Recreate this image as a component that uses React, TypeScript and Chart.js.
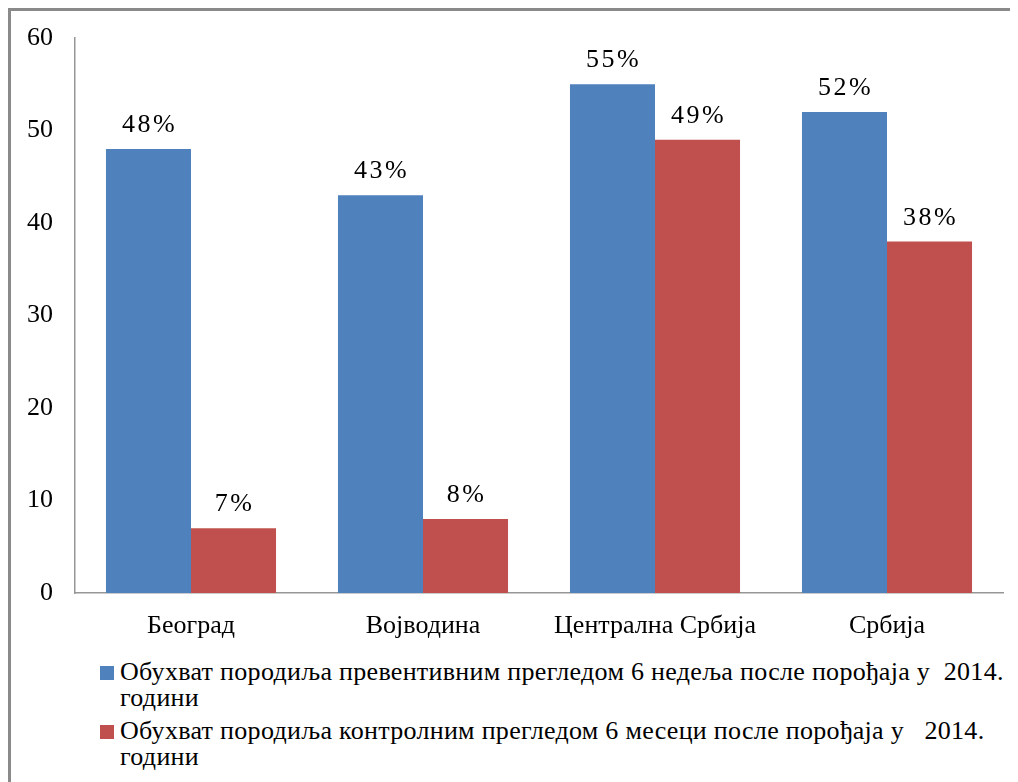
import React, { useEffect, useRef } from "react";
import { Chart, registerables } from "chart.js";

Chart.register(...registerables);

const categories = ["Београд", "Војводина", "Централна Србија", "Србија"];
const preventiveValues = [48, 43, 55, 52];
const controlValues = [7, 8, 49, 38];
const seriesColors = ["#4F81BD", "#C0504D"];
const legendFirstLines = [
  "Обухват породиља превентивним прегледом 6 недеља после порођаја у  2014.",
  "Обухват породиља контролним прегледом 6 месеци после порођаја у   2014.",
];
const legendSecondLines = ["години", "години"];

const FONT = '"Liberation Serif", "Times New Roman", serif';

const labelPlugin = {
  id: "barValueLabels",
  afterDatasetsDraw(chart: any) {
    const ctx = chart.ctx;
    ctx.save();
    ctx.font = `26px ${FONT}`;
    ctx.fillStyle = "#000";
    ctx.textAlign = "center";
    ctx.textBaseline = "alphabetic";
    try {
      (ctx as any).letterSpacing = "2.5px";
    } catch (e) {}
    chart.data.datasets.forEach((ds: any, i: number) => {
      const meta = chart.getDatasetMeta(i);
      meta.data.forEach((bar: any, j: number) => {
        const txt = `${ds.data[j]}%`;
        ctx.fillText(txt, bar.x + 1, bar.y - 17);
      });
    });
    ctx.restore();
  },
};

export default function App() {
  const ref = useRef<HTMLCanvasElement | null>(null);

  useEffect(() => {
    if (!ref.current) return;
    const chart = new Chart(ref.current, {
      type: "bar",
      data: {
        labels: categories,
        datasets: [
          {
            label: legendFirstLines[0] + " " + legendSecondLines[0],
            data: preventiveValues,
            backgroundColor: seriesColors[0],
            categoryPercentage: 0.733,
            barPercentage: 1,
          },
          {
            label: legendFirstLines[1] + " " + legendSecondLines[1],
            data: controlValues,
            backgroundColor: seriesColors[1],
            categoryPercentage: 0.733,
            barPercentage: 1,
          },
        ],
      },
      options: {
        responsive: false,
        animation: false,
        devicePixelRatio: 1,
        layout: { padding: { top: 27, right: 15, left: 0, bottom: 0 } },
        plugins: {
          legend: { display: false },
          tooltip: { enabled: false },
        },
        scales: {
          x: {
            grid: { display: false, drawTicks: false },
            border: { display: true, color: "#969696", width: 1.5 },
            ticks: {
              color: "#000",
              font: { family: FONT, size: 26 },
              padding: 18,
              maxRotation: 0,
              autoSkip: false,
            },
            afterFit: (s: any) => {
              s.height = 58;
              s.paddingLeft = 0;
              s.paddingRight = 0;
            },
          },
          y: {
            min: 0,
            max: 60,
            grid: { display: false, drawTicks: false },
            border: { display: true, color: "#969696", width: 1.5 },
            ticks: {
              stepSize: 10,
              color: "#000",
              font: { family: FONT, size: 26 },
              padding: 22,
            },
            afterFit: (s: any) => {
              s.width = 64;
              s.paddingTop = 0;
              s.paddingBottom = 0;
            },
          },
        },
      },
      plugins: [labelPlugin],
    });
    return () => chart.destroy();
  }, []);

  return (
    <div
      style={{
        position: "relative",
        width: 1010,
        height: 774,
        boxSizing: "border-box",
        borderLeft: "3px solid #8a8a8a",
        borderTop: "3px solid #8a8a8a",
        background: "#fff",
        fontFamily: FONT,
      }}
    >
      <canvas
        ref={ref}
        width={1007}
        height={640}
        style={{ position: "absolute", left: 0, top: 0, width: 1007, height: 640 }}
      />
      <div style={{ position: "absolute", left: 89, top: 648 }}>
        {legendFirstLines.map((line, i) => (
          <div
            key={i}
            style={{ display: "flex", alignItems: "flex-start", marginBottom: 7 }}
          >
            <span
              style={{
                display: "inline-block",
                width: 14,
                height: 14,
                marginTop: 7,
                marginRight: 6,
                background: seriesColors[i],
                flex: "none",
              }}
            />
            <div
              style={{
                fontSize: 26,
                lineHeight: "26px",
                color: "#000",
                letterSpacing: "0.3px",
              }}
            >
              <div style={{ whiteSpace: "pre" }}>{line}</div>
              <div>{legendSecondLines[i]}</div>
            </div>
          </div>
        ))}
      </div>
    </div>
  );
}
